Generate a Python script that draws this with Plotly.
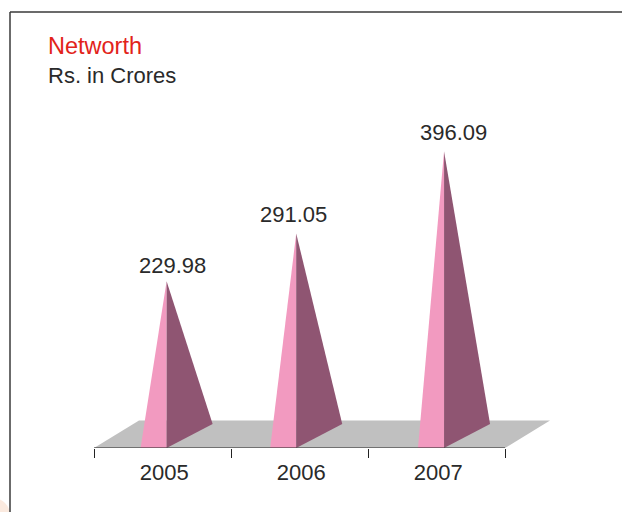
import plotly.graph_objects as go

# Net worth by financial year, Rs. in crores
years = ["2005", "2006", "2007"]
networth = [229.98, 291.05, 396.09]

WIDTH, HEIGHT = 622, 512
BASE_PX = 448            # pixel row of the value-axis floor
LEFT_PX = 94             # pixel column of the first category boundary
CAT_PX = 137             # pixels per category
PX_PER_UNIT = 0.7815     # pixels per crore
BASE_VALUE = 16.5        # value sitting on the floor line

PINK = "#f29ac0"
PLUM = "#8f5572"
FLOOR = "#c0c0c0"
INK = "#2a2a2a"
RED = "#e2231a"
FONT = "Liberation Sans"

# Horizontal nudge of each spike from the category centre, and of each label from its spike
spike_shift = [0.03, -0.024, 0.055]
label_shift_px = [6, -3, 9]
label_lift_px = [1, 4, 4]

# Spike footprint, in category widths and value units
left_reach = 0.19
right_reach = 0.336
depth = 24 / PX_PER_UNIT

# Floor parallelogram extents
floor_back = 27.5 / PX_PER_UNIT
floor_skew = 45 / CAT_PX

fig = go.Figure()

# Floor slab behind the spikes
fig.add_trace(go.Scatter(
    x=[-0.5, -0.5 + floor_skew, 2.5 + floor_skew, 2.5, -0.5],
    y=[BASE_VALUE, BASE_VALUE + floor_back, BASE_VALUE + floor_back, BASE_VALUE, BASE_VALUE],
    mode="lines", fill="toself", fillcolor=FLOOR, line=dict(width=0),
    hoverinfo="skip", showlegend=False,
))

# Each spike is a lit front face and a shaded side face meeting at the value
for i, (year, value) in enumerate(zip(years, networth)):
    xc = i + spike_shift[i]
    fig.add_trace(go.Scatter(
        x=[xc - left_reach, xc, xc, xc - left_reach],
        y=[BASE_VALUE, BASE_VALUE, value, BASE_VALUE],
        mode="lines", fill="toself", fillcolor=PINK, line=dict(width=0),
        name=year, showlegend=False,
    ))
    fig.add_trace(go.Scatter(
        x=[xc, xc + right_reach, xc, xc],
        y=[BASE_VALUE, BASE_VALUE + depth, value, BASE_VALUE],
        mode="lines", fill="toself", fillcolor=PLUM, line=dict(width=0),
        name=year, showlegend=False,
    ))
    fig.add_annotation(
        x=xc, y=value, text=f"{value:.2f}", showarrow=False,
        xref="x", yref="y", xanchor="center", yanchor="bottom",
        xshift=label_shift_px[i], yshift=label_lift_px[i],
        font=dict(family=FONT, size=22, color=INK),
    )

# Heading
fig.add_annotation(x=48 / WIDTH, y=1 - 46 / HEIGHT, text="Networth", showarrow=False,
                   xref="paper", yref="paper", xanchor="left", yanchor="middle",
                   xshift=-2, font=dict(family=FONT, size=23.5, color=RED))
fig.add_annotation(x=48 / WIDTH, y=1 - 75 / HEIGHT, text="Rs. in Crores", showarrow=False,
                   xref="paper", yref="paper", xanchor="left", yanchor="middle",
                   xshift=-2, font=dict(family=FONT, size=22, color=INK))

# Pale wash in the lower-left page corner
fig.add_shape(type="circle", xref="paper", yref="paper", layer="below",
              x0=-24 / WIDTH, x1=10 / WIDTH, y0=-20 / HEIGHT, y1=14 / HEIGHT,
              fillcolor="#fbeadf", line=dict(width=0))

# Page frame along the top and left edges
frame = dict(type="line", xref="paper", yref="paper", line=dict(color="#3a3a3a", width=1.5))
fig.add_shape(x0=10 / WIDTH, x1=1, y0=1 - 12 / HEIGHT, y1=1 - 12 / HEIGHT, **frame)
fig.add_shape(x0=10 / WIDTH, x1=10 / WIDTH, y0=0, y1=1 - 12 / HEIGHT, **frame)

fig.update_layout(
    width=WIDTH, height=HEIGHT,
    margin=dict(l=0, r=0, t=0, b=0),
    paper_bgcolor="white", plot_bgcolor="white",
    showlegend=False,
    xaxis=dict(
        range=[-0.5 - LEFT_PX / CAT_PX, -0.5 + (WIDTH - LEFT_PX) / CAT_PX],
        tickvals=[i + 0.012 for i in range(len(years))],
        ticktext=years,
        ticks="outside", ticklen=5, tickcolor="rgba(0,0,0,0)",
        tickfont=dict(family=FONT, size=22, color=INK),
        minor=dict(tickvals=[-0.5, 0.5, 1.5, 2.5], ticks="outside", ticklen=9,
                   tickcolor="#222222", tickwidth=1),
        showgrid=False, zeroline=False, showline=False,
    ),
    yaxis=dict(
        domain=[(HEIGHT - BASE_PX) / HEIGHT, 1],
        range=[BASE_VALUE, BASE_VALUE + BASE_PX / PX_PER_UNIT],
        visible=False,
    ),
)

# Axis rule across the three categories, on the floor's front edge
fig.add_trace(go.Scatter(
    x=[-0.5, 2.5], y=[BASE_VALUE, BASE_VALUE], mode="lines",
    line=dict(color="#222222", width=1), hoverinfo="skip", showlegend=False,
    cliponaxis=False,
))

fig.write_html("out.html")
